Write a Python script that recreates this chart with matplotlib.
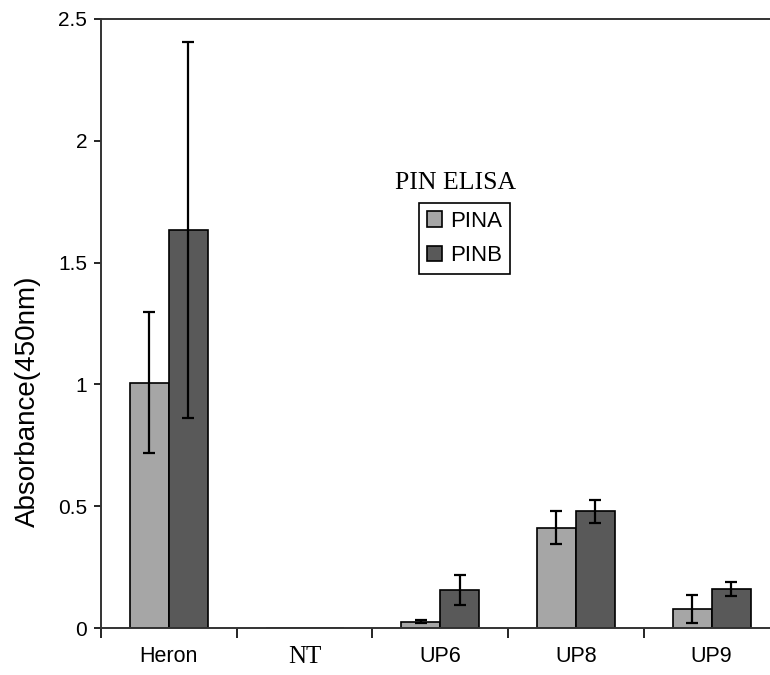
import matplotlib.pyplot as plt
import numpy as np

# Data
groups = ["Heron", "NT", "UP6", "UP8", "UP9"]
pina = [1.007, 0.0, 0.026, 0.412, 0.079]
pina_err = [0.29, 0.0, 0.006, 0.067, 0.057]
pinb = [1.634, 0.0, 0.155, 0.479, 0.160]
pinb_err = [0.77, 0.0, 0.062, 0.047, 0.027]
yticks = [0, 0.5, 1, 1.5, 2, 2.5]
ytick_labels = ["0", "0.5", "1", "1.5", "2", "2.5"]

sans = "Liberation Sans"
serif = "Liberation Serif"

fig = plt.figure(figsize=(7.7, 6.75), dpi=100)
ax = fig.add_axes([101/770, 1-628/675, 678.5/770, 609/675])

x = np.arange(len(groups))
w = 0.2875
ax.bar(x - w/2, pina, w, color="#a6a6a6", edgecolor="black", linewidth=1.2,
       label="PINA", zorder=2)
ax.bar(x + w/2, pinb, w, color="#595959", edgecolor="black", linewidth=1.2,
       label="PINB", zorder=2)
# error bars (skip NT, it has no bar)
idx = [0, 2, 3, 4]
ax.errorbar(x[idx] - w/2, [pina[i] for i in idx], yerr=[pina_err[i] for i in idx],
            fmt="none", ecolor="black", elinewidth=1.6, capsize=4.5, capthick=1.6, zorder=3)
ax.errorbar(x[idx] + w/2, [pinb[i] for i in idx], yerr=[pinb_err[i] for i in idx],
            fmt="none", ecolor="black", elinewidth=1.6, capsize=4.5, capthick=1.6, zorder=3)

ax.set_xlim(-0.5, 4.5)
ax.set_ylim(0, 2.5)

ax.set_yticks(yticks)
ax.set_yticklabels(ytick_labels, fontsize=15, fontfamily=sans)
ax.tick_params(axis="y", direction="out", length=5, width=1.2, pad=5)

ax.set_xticks(np.arange(-0.5, 4.6, 1))
ax.set_xticklabels([])
ax.set_xticks(x, minor=True)
ax.set_xticklabels(groups, minor=True, fontsize=15.5, fontfamily=sans)
ax.tick_params(axis="x", which="major", direction="out", length=7, width=1.2)
ax.tick_params(axis="x", which="minor", length=0, pad=13)
ax.get_xticklabels(minor=True)[1].set_fontfamily(serif)
ax.get_xticklabels(minor=True)[1].set_fontsize(18)

ax.set_ylabel("Absorbance(450nm)", fontsize=20, fontfamily=sans, va="center")
ax.yaxis.set_label_coords((28-101)/678.5, (628-401)/609)

for s in ["left", "bottom", "top"]:
    ax.spines[s].set_linewidth(1.4)
    ax.spines[s].set_color("#333333")
ax.spines["right"].set_visible(False)

leg = fig.legend(loc="upper left", bbox_to_anchor=(419/770, 1-203/675),
                 prop={"family": sans, "size": 16}, handlelength=0.7,
                 handleheight=0.7, handletextpad=0.35, labelspacing=0.6,
                 borderpad=0.35, borderaxespad=0, fancybox=False, framealpha=1)
leg.get_frame().set_edgecolor("black")
leg.get_frame().set_linewidth(1.2)
fig.text(456/770, 1-183/675, "PIN ELISA", fontsize=18.5, fontfamily=serif,
         ha="center", va="center")

fig.savefig("out.png", dpi=100)
